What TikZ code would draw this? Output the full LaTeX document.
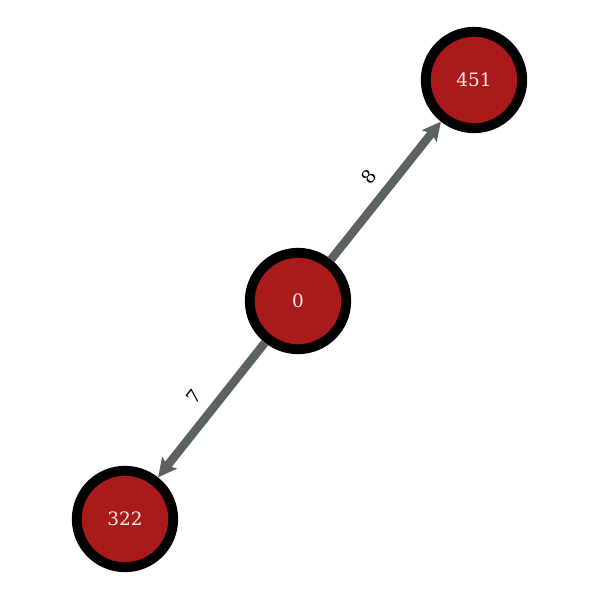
\documentclass[tikz,border=0pt]{standalone}
\usepackage{fontspec}
\setmainfont{DejaVu Serif}
\usetikzlibrary{arrows.meta}
\definecolor{vertred}{HTML}{AA1A1A}
\definecolor{linkgray}{HTML}{5A6262}
\begin{document}
\begin{tikzpicture}[x=0.02cm,y=-0.02cm,
        vert/.style={circle,draw=black,line width=5.6pt,fill=vertred,minimum size=1.93cm,inner sep=0pt,text=white!92!red,font=\fontsize{10.5}{12}\selectfont},
        link/.style={draw=linkgray,line width=4.8pt,-{Stealth[length=10.5pt,width=10.5pt,inset=2pt]}},
        weight/.style={sloped,above=3pt,font=\fontsize{10.5}{12}\selectfont}]
    \useasboundingbox(0,0)rectangle(600,600);
    \node[vert](v0)at(298,301){0};
    \node[vert](v451)at(474,80){451};
    \node[vert](v322)at(125,519){322};
    \draw[link](v0)--node[weight]{8}(v451);
    \draw[link](v0)--node[weight]{7}(v322);
\end{tikzpicture}
\end{document}
